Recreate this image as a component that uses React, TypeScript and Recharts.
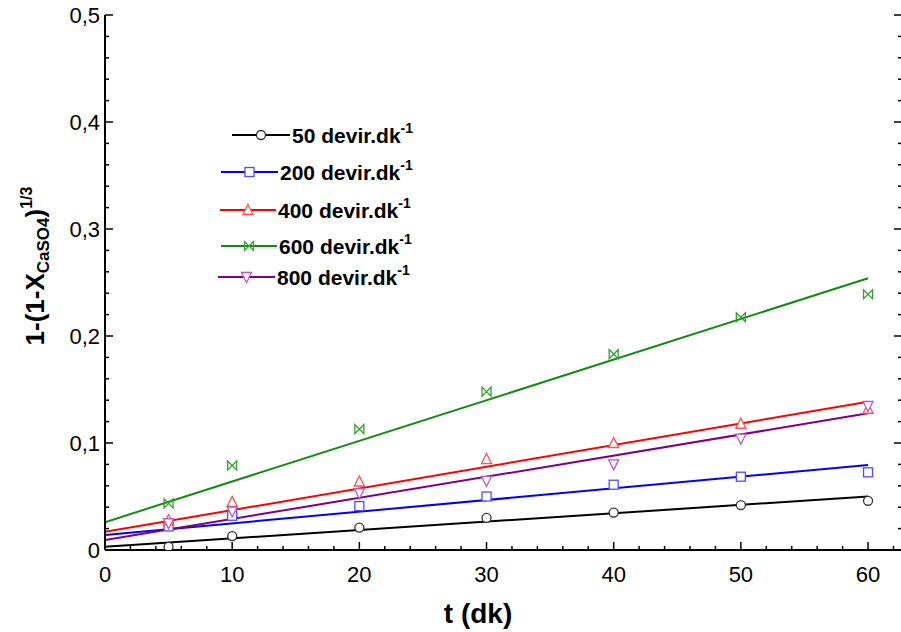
import { LineChart, Line, XAxis, YAxis } from "recharts";

// measurement times (dk) and 1-(1-X)^(1/3) at each stirring speed
const times = [5, 10, 20, 30, 40, 50, 60];
const rpm50 = [0.003, 0.013, 0.021, 0.03, 0.035, 0.042, 0.046];
const rpm200 = [0.022, 0.032, 0.041, 0.05, 0.061, 0.0685, 0.0726];
const rpm400 = [0.028, 0.045, 0.064, 0.085, 0.1, 0.118, 0.132];
const rpm600 = [0.0436, 0.079, 0.113, 0.148, 0.183, 0.2175, 0.239];
const rpm800 = [0.025, 0.036, 0.053, 0.0645, 0.08, 0.104, 0.1346];

// linear fits, evaluated at t = 0 and t = 60
const fitTimes = [0, 60];
const fit50 = [0.003, 0.05];
const fit200 = [0.014, 0.0794];
const fit400 = [0.017, 0.1386];
const fit600 = [0.026, 0.254];
const fit800 = [0.0093, 0.1277];

const xTicks = [0, 2, 4, 6, 8, 10, 12, 14, 16, 18, 20, 22, 24, 26, 28, 30, 32, 34, 36, 38, 40, 42, 44, 46, 48, 50, 52, 54, 56, 58, 60, 62];
const yTicks = [0, 0.02, 0.04, 0.06, 0.08, 0.1, 0.12, 0.14, 0.16, 0.18, 0.2, 0.22, 0.24, 0.26, 0.28, 0.3, 0.32, 0.34, 0.36, 0.38, 0.4, 0.42, 0.44, 0.46, 0.48, 0.5];

type Shape = "circle" | "square" | "up" | "bowtie" | "down";

const series = [
  { name: "50", values: rpm50, fit: fit50, line: "#000000", mark: "#333333", shape: "circle" as Shape },
  { name: "200", values: rpm200, fit: fit200, line: "#0000ff", mark: "#4d4dff", shape: "square" as Shape },
  { name: "400", values: rpm400, fit: fit400, line: "#ff0000", mark: "#ff5050", shape: "up" as Shape },
  { name: "600", values: rpm600, fit: fit600, line: "#138a13", mark: "#33a033", shape: "bowtie" as Shape },
  { name: "800", values: rpm800, fit: fit800, line: "#800080", mark: "#b45cc0", shape: "down" as Shape },
];

// legend rows: line start/end, row y
const legendRows = [
  { x1: 232, x2: 290, y: 135 },
  { x1: 221, x2: 278, y: 172 },
  { x1: 220, x2: 276, y: 210 },
  { x1: 221, x2: 277, y: 246 },
  { x1: 218, x2: 275, y: 277 },
];

const FONT = "'Liberation Sans', Arial, sans-serif";

function Marker({ cx, cy, shape, color }: { cx: number; cy: number; shape: Shape; color: string }) {
  const s = 4.5;
  const common = { fill: "#fff", stroke: color, strokeWidth: 1.3 };
  switch (shape) {
    case "circle":
      return <circle cx={cx} cy={cy} r={s} {...common} />;
    case "square":
      return <rect x={cx - s} y={cy - s} width={2 * s} height={2 * s} {...common} />;
    case "up":
      return <path d={`M${cx},${cy - s - 1} L${cx + s + 0.5},${cy + s} L${cx - s - 0.5},${cy + s} Z`} {...common} />;
    case "down":
      return <path d={`M${cx},${cy + s + 1} L${cx + s + 0.5},${cy - s} L${cx - s - 0.5},${cy - s} Z`} {...common} />;
    case "bowtie":
      return <path d={`M${cx - s},${cy - s} L${cx - s},${cy + s} L${cx + s},${cy - s} L${cx + s},${cy + s} Z`} {...common} fill="none" />;
  }
  return null;
}

const isMajor = (v: number, step: number) => Math.abs(v / step - Math.round(v / step)) < 1e-6;

function BottomTick({ x, y, payload }: any) {
  const v = payload.value as number;
  const major = isMajor(v, 10);
  return (
    <g>
      <line x1={x} x2={x} y1={y} y2={y - (major ? 8 : 4)} stroke="#000" strokeWidth={1.5} />
      {major && (
        <text x={x} y={y + 32} textAnchor="middle" fontFamily={FONT} fontSize={22} fill="#000">
          {v}
        </text>
      )}
    </g>
  );
}

function TopTick({ x, y, payload }: any) {
  const major = isMajor(payload.value, 10);
  return <line x1={x} x2={x} y1={y} y2={y + (major ? 8 : 4)} stroke="#000" strokeWidth={1.5} />;
}

function LeftTick({ x, y, payload }: any) {
  const v = payload.value as number;
  const major = isMajor(v, 0.1);
  const label = v === 0 ? "0" : v.toFixed(1).replace(".", ",");
  return (
    <g>
      <line x1={x} x2={x + (major ? 8 : 4)} y1={y} y2={y} stroke="#000" strokeWidth={1.5} />
      {major && (
        <text x={x - 5} y={y + 8} textAnchor="end" fontFamily={FONT} fontSize={22} fill="#000">
          {label}
        </text>
      )}
    </g>
  );
}

function RightTick({ x, y, payload }: any) {
  const major = isMajor(payload.value, 0.1);
  return <line x1={x} x2={x - (major ? 8 : 4)} y1={y} y2={y} stroke="#000" strokeWidth={1.5} />;
}

function Legend() {
  return (
    <svg width={901} height={632} style={{ position: "absolute", left: 0, top: 0, pointerEvents: "none" }}>
      {series.map((s, i) => {
        const r = legendRows[i];
        const mx = (r.x1 + r.x2) / 2;
        return (
          <g key={s.name}>
            <line x1={r.x1} x2={r.x2} y1={r.y} y2={r.y} stroke={s.line} strokeWidth={2} />
            <Marker cx={mx} cy={r.y} shape={s.shape} color={s.mark} />
            <text x={r.x2 + 2} y={r.y + 8} fontFamily={FONT} fontWeight="bold" fontSize={21} fill="#000">
              {s.name} devir.dk
              <tspan fontSize={14} dy={-10}>-1</tspan>
            </text>
          </g>
        );
      })}
      <text x={478} y={623} textAnchor="middle" fontFamily={FONT} fontWeight="bold" fontSize={28} fill="#000">
        t (dk)
      </text>
      <text
        transform="translate(44,266) rotate(-90)"
        textAnchor="middle"
        fontFamily={FONT}
        fontWeight="bold"
        fontSize={26}
        fill="#000"
      >
        1-(1-X
        <tspan fontSize={17} dy={5}>CaSO4</tspan>
        <tspan dy={-5}>)</tspan>
        <tspan fontSize={16} dy={-12}>1/3</tspan>
      </text>
    </svg>
  );
}

export default function App() {
  return (
    <div style={{ position: "absolute", left: 0, top: 0, width: 901, height: 632, overflow: "hidden", background: "#fff" }}>
      <LineChart width={903} height={632} margin={{ top: 15, right: 0, bottom: 0, left: 0 }}>
        <XAxis
          xAxisId="b"
          type="number"
          dataKey="t"
          domain={[0, 62.67]}
          ticks={xTicks}
          interval={0}
          allowDataOverflow
          height={82}
          tickSize={0}
          tickMargin={0}
          axisLine={{ stroke: "#000", strokeWidth: 2 }}
          tick={BottomTick}
        />
        <XAxis
          xAxisId="t"
          orientation="top"
          type="number"
          dataKey="t"
          domain={[0, 62.67]}
          ticks={xTicks}
          interval={0}
          allowDataOverflow
          height={0}
          tickSize={0}
          tickMargin={0}
          axisLine={{ stroke: "#000", strokeWidth: 2 }}
          tick={TopTick}
        />
        <YAxis
          yAxisId="l"
          type="number"
          domain={[0, 0.5]}
          ticks={yTicks}
          interval={0}
          allowDataOverflow
          width={105}
          tickSize={0}
          tickMargin={0}
          axisLine={{ stroke: "#000", strokeWidth: 2 }}
          tick={LeftTick}
        />
        <YAxis
          yAxisId="r"
          orientation="right"
          type="number"
          domain={[0, 0.5]}
          ticks={yTicks}
          interval={0}
          allowDataOverflow
          width={1}
          tickSize={0}
          tickMargin={0}
          axisLine={{ stroke: "#000", strokeWidth: 2 }}
          tick={RightTick}
        />
        {series.map((s) => (
          <Line
            key={`fit-${s.name}`}
            xAxisId="b"
            yAxisId="l"
            data={fitTimes.map((t, i) => ({ t, v: s.fit[i] }))}
            dataKey="v"
            type="linear"
            stroke={s.line}
            strokeWidth={2}
            dot={false}
            activeDot={false}
            isAnimationActive={false}
          />
        ))}
        {series.map((s) => (
          <Line
            key={`pts-${s.name}`}
            xAxisId="b"
            yAxisId="l"
            data={times.map((t, i) => ({ t, v: s.values[i] }))}
            dataKey="v"
            stroke="none"
            dot={(p: any) => <Marker key={`${s.name}-${p.index}`} cx={p.cx} cy={p.cy} shape={s.shape} color={s.mark} />}
            activeDot={false}
            isAnimationActive={false}
          />
        ))}
      </LineChart>
      <Legend />
    </div>
  );
}
